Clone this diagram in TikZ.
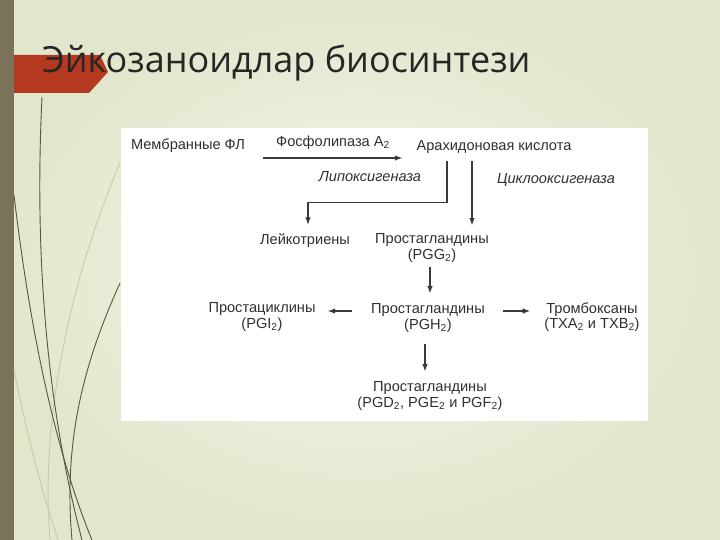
\documentclass[tikz,border=0pt]{standalone}
\usepackage{fontspec}
\setmainfont{Liberation Sans}
\newfontfamily\titlefont{Open Sans}
\usetikzlibrary{arrows.meta,calc}
\definecolor{bgin}{HTML}{F5F6EE}
\definecolor{bgout}{HTML}{E1E7CC}
\definecolor{barcol}{HTML}{7A7259}
\definecolor{tabred}{HTML}{B5391E}
\definecolor{titlecol}{HTML}{262626}
\definecolor{txt}{HTML}{303030}
\definecolor{arrcol}{HTML}{3A3A3A}
\definecolor{wispdark}{HTML}{5A5538}
\definecolor{wisplight}{HTML}{C3CDA0}
\newcommand\subtwo{\textsubscript{2}}
\tikzset{
  dg/.style={font=\fontsize{14.6}{15.5}\selectfont, text=txt, inner sep=0pt, align=center},
  dgi/.style={dg, font=\fontsize{14.6}{15.5}\selectfont\itshape},
  arr/.style={draw=arrcol, line width=1.1pt, -{Latex[length=7.5pt,width=5.5pt]}},
  wispd/.style={draw=wispdark, line width=0.9pt},
  wispl/.style={draw=wisplight, line width=0.9pt}
}
\begin{document}
\begin{tikzpicture}[x=1pt,y=-1pt]
\useasboundingbox (0,0) rectangle (720,540);
% background
\shade[inner color=bgin, outer color=bgout] (0,0) rectangle (720,540);
% wisps
\draw[wispl] (120,163) .. controls (70,280) and (40,420) .. (50,540);
\draw[wispl] (14,370) .. controls (30,450) and (45,500) .. (58,540);
\draw[wispd] (42,97) .. controls (36,220) and (40,380) .. (82,540);
\draw[wispd] (14,195) .. controls (30,330) and (55,450) .. (92,540);
\draw[wispd] (120,283) .. controls (90,350) and (62,430) .. (72,540);
% left bar
\fill[barcol] (0,0) rectangle (14,540);
% red tab
\fill[tabred] (14,55) -- (100,55) -- (108,72) -- (89,93) -- (14,93) -- cycle;
% title
\node[anchor=base west, inner sep=0pt, text=titlecol, font=\titlefont\fontsize{36}{40}\selectfont] (title) at (42,73) {Эйкозаноидлар биосинтези};
% white panel
\fill[white] (121,128) rectangle (648,421);
% nodes
\node[dg] (memb) at (188,146) {Мембранные ФЛ};
\node[dg] (phos) at (333,143) {Фосфолипаза A\subtwo};
\node[dg] (arach) at (494,147) {Арахидоновая кислота};
\node[dgi] (lipo) at (370,177) {Липоксигеназа};
\node[dgi] (cyclo) at (556,180) {Циклооксигеназа};
\node[dg] (leuk) at (305,241) {Лейкотриены};
\node[dg] (pgg) at (432,248) {Простагландины\\(PGG\subtwo)};
\node[dg] (pgh) at (428,318) {Простагландины\\(PGH\subtwo)};
\node[dg] (pgi) at (262,317) {Простациклины\\(PGI\subtwo)};
\node[dg] (txa) at (592,317) {Тромбоксаны\\(TXA\subtwo{} и TXB\subtwo)};
\node[dg] (pgd) at (430,396) {Простагландины\\(PGD\subtwo, PGE\subtwo{} и PGF\subtwo)};
% helper coordinates
\coordinate (aL) at ($(arach.south)+(-47,7)$);
\coordinate (aR) at ($(arach.south)+(-22,7)$);
\coordinate (gT) at ($(pgg.north)+(0,-8)$);
% connectors
\draw[arr] ($(memb.east |- phos.south)+(18,8)$) -- ($(arach.west |- phos.south)+(-14,8)$);
\draw[arr] (aL) |- ($(leuk.north)+(3,-31)$) -- ($(leuk.north)+(3,-9)$);
\draw[arr] (aR) -- (aR |- gT);
\draw[arr] ($(pgg.south)+(-2,5)$) -- ($(pgh.north)+(2,-10)$);
\draw[arr] ($(pgh.west)+(-19,-7)$) -- ($(pgi.east)+(12,-6)$);
\draw[arr] ($(pgh.east)+(18,-7)$) -- ($(txa.west)+(-14,-6)$);
\draw[arr] ($(pgh.south)+(-3,12)$) -- ($(pgd.north)+(-5,-10)$);
\end{tikzpicture}
\end{document}
